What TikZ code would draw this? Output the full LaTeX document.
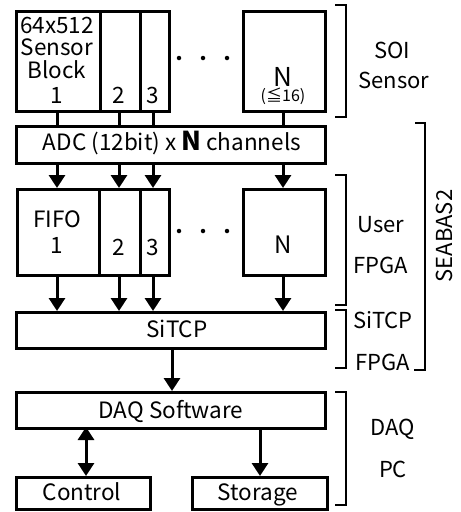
\documentclass[tikz,border=0pt]{standalone}
\usepackage{fontspec}
\setmainfont{Noto Sans CJK JP}
\usetikzlibrary{arrows.meta}
\begin{document}
\begin{tikzpicture}[x=1pt,y=-1pt,
  box/.style={draw,line width=3pt,inner sep=0pt,anchor=north west},
  conn/.style={line width=3pt},
  arr/.style={line width=3pt,-{Triangle[width=16pt,length=13pt]}},
  darr/.style={line width=3pt,{Triangle[width=16pt,length=13pt]}-{Triangle[width=16pt,length=13pt]}},
  brk/.style={line width=2.8pt},
  txt/.style={inner sep=0pt,anchor=base,font=\fontsize{22.5}{22.5}\selectfont},
  lbl/.style={inner sep=0pt,anchor=base,font=\fontsize{22}{22}\selectfont},
  dot/.style={circle,fill,inner sep=0pt,minimum size=4.5pt}]
\useasboundingbox (0,0) rectangle (461,512);
% sensor blocks
\node[box,minimum width=84pt,minimum height=100pt] (s1) at (15,10) {};
\node[box,minimum width=40pt,minimum height=100pt] (s2) at (99,10) {};
\node[box,minimum width=29pt,minimum height=100pt] (s3) at (139,10) {};
\node[box,minimum width=82pt,minimum height=100pt] (sN) at (242,10) {};
\node[txt] (t64) at (57,33) {64x512};
\node[txt] (tsen) at (57,55) {Sensor};
\node[txt] (tblk) at (57,78) {Block};
\node[txt] (t1) at (57,103) {1};
\node[txt] (t2) at (119,103) {2};
\node[txt] (t3) at (153,103) {3};
\node[inner sep=0pt,anchor=base,font=\fontsize{26}{26}\selectfont] (tN) at (283,86) {N};
\node[inner sep=0pt,anchor=base,font=\fontsize{16}{16}\selectfont] (tle) at (283,101) {(≦16)};
\node[dot] (d1) at (179,58) {};
\node[dot] (d2) at (203,58) {};
\node[dot] (d3) at (227,58) {};
% ADC
\node[box,minimum width=309pt,minimum height=37pt] (adc) at (15,125) {};
\node[txt] (tadc) at (172,150) {ADC (12bit) x {\fontsize{26}{26}\selectfont\bfseries N} channels};
\draw[conn] (57,110) -- (57,125);
\draw[conn] (119,110) -- (119,125);
\draw[conn] (153,110) -- (153,125);
\draw[conn] (283,110) -- (283,125);
% FIFO
\node[box,minimum width=82pt,minimum height=86pt] (f1) at (16,188) {};
\node[box,minimum width=41pt,minimum height=86pt] (f2) at (98,188) {};
\node[box,minimum width=29pt,minimum height=86pt] (f3) at (139,188) {};
\node[box,minimum width=82pt,minimum height=86pt] (fN) at (242,188) {};
\node[txt] (tfifo) at (57,227) {FIFO};
\node[txt] (tf1) at (57,253) {1};
\node[txt] (tf2) at (119,255) {2};
\node[txt] (tf3) at (153,255) {3};
\node[inner sep=0pt,anchor=base,font=\fontsize{24}{24}\selectfont] (tfN) at (283,253) {N};
\node[dot] (e1) at (179,231) {};
\node[dot] (e2) at (203,231) {};
\node[dot] (e3) at (227,231) {};
\draw[arr] (57,162) -- (57,188);
\draw[arr] (119,162) -- (119,188);
\draw[arr] (153,162) -- (153,188);
\draw[arr] (283,162) -- (283,188);
% SiTCP
\node[box,minimum width=309pt,minimum height=36pt] (sitcp) at (15,311) {};
\node[txt] (tsitcp) at (177,337) {SiTCP};
\draw[arr] (57,274) -- (57,311);
\draw[arr] (119,274) -- (119,311);
\draw[arr] (153,274) -- (153,311);
\draw[arr] (283,274) -- (283,311);
% DAQ
\node[box,minimum width=309pt,minimum height=36pt] (daq) at (15,391) {};
\node[txt] (tdaq) at (171,418) {DAQ Software};
\draw[arr] (172,347) -- (172,391);
\node[box,minimum width=134pt,minimum height=32pt] (ctrl) at (15,476) {};
\node[txt] (tctrl) at (82,500) {Control};
\node[box,minimum width=135pt,minimum height=32pt] (stor) at (191,476) {};
\node[txt] (tstor) at (258,500) {Storage};
\draw[darr] (86,427) -- (86,476);
\draw[arr] (260,427) -- (260,476);
% brackets
\draw[brk] (335,5) -- (346,5) -- (346,117) -- (335,117);
\draw[brk] (335,175) -- (346,175) -- (346,305) -- (335,305);
\draw[brk] (335,310) -- (346,310) -- (346,368) -- (335,368);
\draw[brk] (335,392) -- (346,392) -- (346,505) -- (335,505);
\draw[brk] (415,123) -- (425,123) -- (425,370) -- (414,370);
\node[lbl] (lsoi) at (392,58) {SOI};
\node[lbl] (lsen) at (394,88) {Sensor};
\node[lbl] (luser) at (381,232) {User};
\node[lbl] (lfpga) at (381,273) {FPGA};
\node[lbl] (lsit) at (383,328) {SiTCP};
\node[lbl] (lfpga2) at (383,370) {FPGA};
\node[lbl] (ldaq) at (393,435) {DAQ};
\node[lbl] (lpc) at (393,477) {PC};
\node[inner sep=0pt,font=\fontsize{22}{22}\selectfont,rotate=90] (lsea) at (444,236) {SEABAS2};
\end{tikzpicture}
\end{document}
